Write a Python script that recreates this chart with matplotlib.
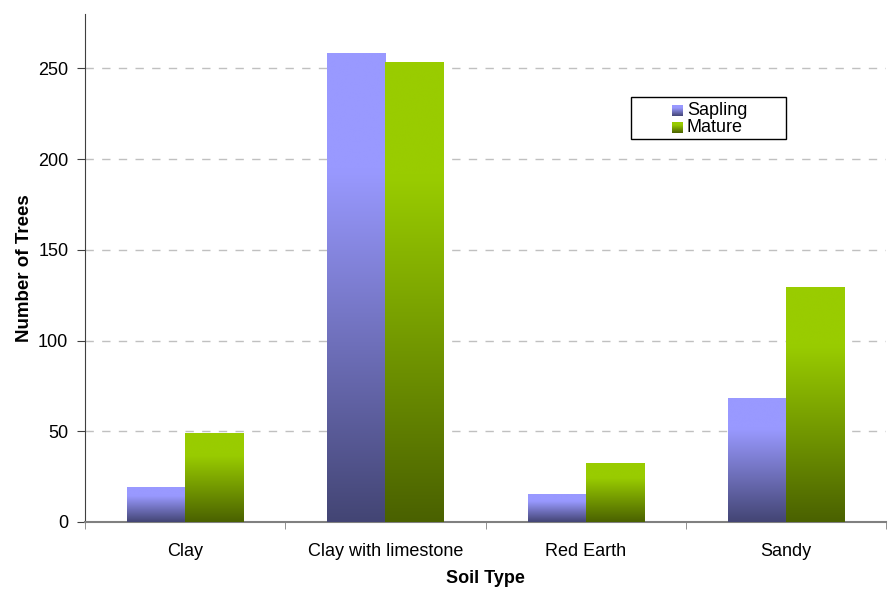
import numpy as np
import matplotlib
matplotlib.use("Agg")
import matplotlib.pyplot as plt
from matplotlib.colors import LinearSegmentedColormap
from matplotlib.patches import Rectangle

plt.rcParams['font.family'] = ['Liberation Sans', 'DejaVu Sans']

soils = ['Clay', 'Clay with limestone', 'Red Earth', 'Sandy']
sapling = [19, 258, 15, 68]
mature = [49, 253, 32, 129]
series = ['Sapling', 'Mature']

sap_top, sap_bot = '#9999FF', '#434574'
mat_top, mat_bot = '#99CC00', '#4A6100'


def make_cmap(bot, top):
    # dark at bottom, full colour over the top quarter
    return LinearSegmentedColormap.from_list('g', [(0, bot), (0.75, top), (1, top)])


def grad_box(ax, x0, x1, y0, y1, cmap):
    grad = np.linspace(0, 1, 256).reshape(-1, 1)
    return ax.imshow(grad, extent=(x0, x1, y0, y1), origin='lower', aspect='auto',
                     cmap=cmap, zorder=3, interpolation='bicubic')


fig = plt.figure(figsize=(8.91, 5.90), dpi=100)
ax = fig.add_axes([85 / 891, 68 / 590, 801 / 891, 508 / 590])

x = np.arange(len(soils))
bw = 0.29
cm_s = make_cmap(sap_bot, sap_top)
cm_m = make_cmap(mat_bot, mat_top)
for i in range(len(soils)):
    grad_box(ax, x[i] - bw, x[i], 0, sapling[i], cm_s)
    grad_box(ax, x[i], x[i] + bw, 0, mature[i], cm_m)

ax.set_xlim(-0.5, len(soils) - 0.5)
ax.set_ylim(0, 280)
ax.set_yticks(range(0, 251, 50))
ax.yaxis.grid(True, color='#C0C0C0', linestyle=(0, (6, 6)), linewidth=1)
ax.set_axisbelow(True)

ax.set_xticks(x)
ax.set_xticklabels(soils, fontsize=13)
ax.set_xticks(np.arange(-0.5, len(soils) + 0.5, 1), minor=True)
ax.tick_params(axis='x', which='major', length=0, pad=15)
ax.tick_params(axis='x', which='minor', length=5, direction='out', color='#808080')
ax.tick_params(axis='y', length=6, direction='out', labelsize=13, color='#404040', pad=6)

for s in ['top', 'right']:
    ax.spines[s].set_visible(False)
ax.spines['left'].set_color('#404040')
ax.spines['bottom'].set_color('#808080')
ax.spines['bottom'].set_linewidth(1.5)

ax.set_xlabel('Soil Type', fontsize=13, fontweight='bold', labelpad=7)
ax.set_ylabel('Number of Trees', fontsize=13.5, fontweight='bold', labelpad=4)

# legend box drawn in figure pixels (Excel-style box wider than content)
W, H = 891, 590
fig.patches.append(Rectangle((631 / W, 1 - 139 / H), 155 / W, 42 / H,
                             transform=fig.transFigure, facecolor='white',
                             edgecolor='black', linewidth=1, zorder=5))
lax = fig.add_axes([0, 0, 1, 1], zorder=6)
lax.axis('off')
for name, cm, yc in [(series[0], cm_s, 110.5), (series[1], cm_m, 127.5)]:
    lax.imshow(np.linspace(0, 1, 64).reshape(-1, 1), extent=(672, 683, yc + 5.5, yc - 5.5),
               origin='lower', aspect='auto', cmap=cm, interpolation='bicubic')
    lax.text(687, yc, name, fontsize=13, va='center', ha='left')
lax.set_xlim(0, W)
lax.set_ylim(H, 0)

fig.savefig('out.png', dpi=100)
